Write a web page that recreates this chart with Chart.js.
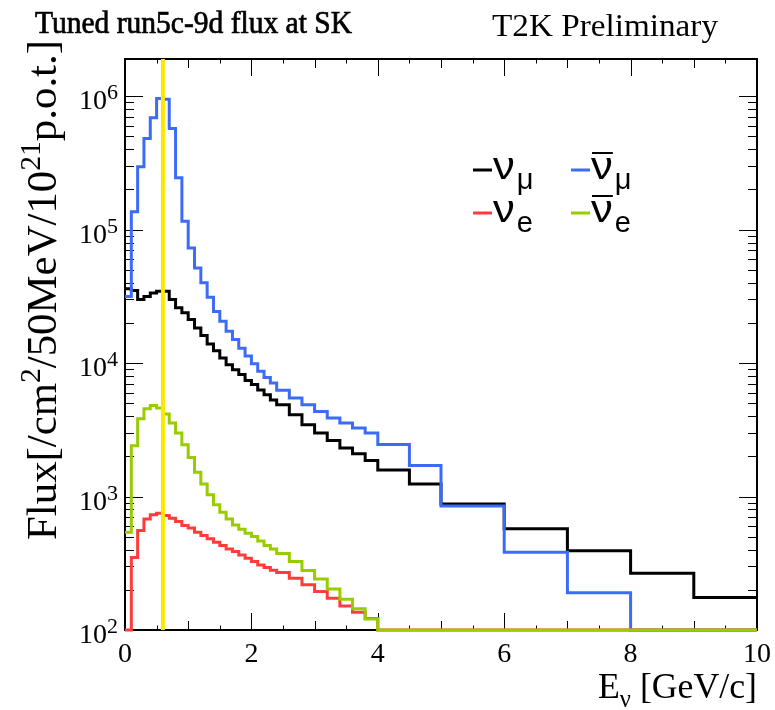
<!DOCTYPE html>
<html><head><meta charset="utf-8">
<script src="https://cdn.jsdelivr.net/npm/chart.js@4"></script>
<style>html,body{margin:0;padding:0;background:#fff}#wrap{width:775px;height:710px;position:relative}</style>
</head><body><div id="wrap"><canvas id="c"></canvas></div>
<script>
// ---- data (bin low edges, last entry = upper edge of last bin) ----
const binEdges = [0,0.1,0.2,0.3,0.4,0.5,0.6,0.7,0.8,0.9,1.0,1.1,1.2,1.3,1.4,1.5,1.6,1.7,1.8,1.9,2.0,2.1,2.2,2.3,2.4,2.6,2.8,3.0,3.2,3.4,3.6,3.8,4.0,4.5,5,6,7,8,9,10];
const numu    = [36000,35000,30000,31500,33500,34500,34500,30000,26000,23800,21200,18300,16100,13900,12400,10900,9700,8900,8200,7400,6900,6300,5800,5300,4870,4100,3450,2990,2630,2310,2090,1860,1580,1240,881,573,393,266,175];
const numubar = [31600,136000,296000,482000,690000,960000,947000,573000,245000,115600,73000,51700,40000,31100,24400,20600,17300,15000,12900,11300,9900,8670,7800,7100,6270,5470,4870,4340,3870,3550,3260,2990,2450,1710,851,383,190,0,0];
const nue     = [0,349,556,680,730,750,721,689,650,607,580,541,510,482,455,429,405,387,365,345,326,307,294,280,270,244,218,194,173,151,136,122,0,0,0,0,0,0,0];
const nuebar  = [541,2400,3830,4550,4820,4600,4150,3550,2990,2440,1960,1520,1240,1030,867,764,680,613,569,531,501,465,429,405,374,326,279,241,203,170,144,121,0,0,0,0,0,0,0];
const xTickLabels = [0,2,4,6,8,10];
const yDecades = [2,3,4,5,6];
const peakEnergy = 0.6;
const YMIN = 100, YMAX = 1.9e6;

const COL = {numu:'#000000', numubar:'#3c6cf5', nue:'#ff3b3b', nuebar:'#99cc00', peak:'#fbe800'};

function histPoints(vals){
  const pts = vals.map((v,i)=>({x:binEdges[i], y:Math.max(v,YMIN)}));
  pts.push({x:binEdges[binEdges.length-1], y:Math.max(vals[vals.length-1],YMIN)});
  return pts;
}
function histDS(vals,color){
  return {data:histPoints(vals), borderColor:color, borderWidth:3, stepped:'before', pointRadius:0, fill:false, clip:false, tension:0};
}

// ---- text helpers ----
function font(sz,fam,w){ return (w?w+' ':'')+sz+'px '+fam; }
function richWidth(ctx,parts){ let w=0; for(const p of parts){ ctx.font=font(p.s,p.f,p.w); w+=ctx.measureText(p.t).width; } return w; }
function drawRich(ctx,parts,x,y,align,fitW,stretch,strokeW){
  let sx=1;
  if(fitW){
    const w0=richWidth(ctx,parts);
    if(stretch){ sx=fitW/w0; }
    else { const k=fitW/w0; parts=parts.map(p=>Object.assign({},p,{s:p.s*k,dy:(p.dy||0)*k})); }
  }
  const w=richWidth(ctx,parts)*sx;
  let cx = align==='right'? x-w : align==='center'? x-w/2 : x;
  ctx.save(); ctx.translate(cx,y); ctx.scale(sx,1);
  ctx.textAlign='left'; ctx.textBaseline='alphabetic';
  let px=0;
  for(const p of parts){
    ctx.font=font(p.s,p.f,p.w); ctx.fillText(p.t,px,(p.dy||0));
    if(strokeW){ ctx.strokeStyle=ctx.fillStyle; ctx.lineWidth=strokeW; ctx.strokeText(p.t,px,(p.dy||0)); }
    px+=ctx.measureText(p.t).width;
  }
  ctx.restore();
  return w;
}
const SERIF='"Liberation Serif", "DejaVu Serif", serif';
const SANS='"Liberation Sans", Arial, sans-serif';

const framePlugin = {
  id:'frameTicks',
  beforeDatasetsDraw(chart){
    const {ctx, chartArea:a, scales:{x,y}} = chart;
    ctx.save();
    ctx.strokeStyle='#000'; ctx.lineWidth=1;
    const seg=(x1,y1,x2,y2)=>{ctx.beginPath();ctx.moveTo(x1,y1);ctx.lineTo(x2,y2);ctx.stroke();};
    for(let i=0;i<=20;i++){
      const v=i*0.5;
      const px=Math.round(x.getPixelForValue(v))+0.5;
      const L = (i%4===0)?17:((i%2===0)?9:4.5);
      seg(px,a.bottom,px,a.bottom-L); seg(px,a.top,px,a.top+L);
    }
    for(const n of yDecades){
      for(let k=1;k<=9;k++){
        const v=k*Math.pow(10,n); if(v>YMAX) break;
        const py=Math.round(y.getPixelForValue(v))+0.5;
        const L = k===1?18:9;
        seg(a.left,py,a.left+L,py); seg(a.right,py,a.right-L,py);
      }
    }
    ctx.lineWidth=2;
    ctx.strokeRect(a.left,a.top,a.right-a.left,a.bottom-a.top);
    ctx.restore();
  },
  afterDraw(chart){
    const {ctx, chartArea:a, scales:{y}} = chart;
    ctx.save(); ctx.fillStyle='#000';
    // titles
    drawRich(ctx,[{t:'Tuned run5c-9d flux at SK',s:31,f:SERIF}],35,33,'left',317,true,0.7);
    drawRich(ctx,[{t:'T2K Preliminary',s:31,f:SERIF}],492,36,'left',226,true);
    // y labels
    for(const n of yDecades){
      const py=y.getPixelForValue(Math.pow(10,n));
      drawRich(ctx,[{t:'10',s:28,f:SERIF,dy:13},{t:String(n),s:22,f:SERIF,dy:3}],118,py,'right');
    }
    // x title
    drawRich(ctx,[{t:'E',s:35,f:SERIF},{t:'\u03bd',s:24,f:SERIF,dy:9},{t:' [GeV/c]',s:35,f:SERIF}],757,698,'right',159);
    // y title
    ctx.save(); ctx.translate(56,540); ctx.rotate(-Math.PI/2);
    drawRich(ctx,[{t:'Flux[/cm',s:42,f:SERIF},{t:'2',s:29,f:SERIF,dy:-16},{t:'/50MeV/10',s:42,f:SERIF},{t:'21',s:29,f:SERIF,dy:-16},{t:'p.o.t.]',s:42,f:SERIF}],0,0,'left',500);
    ctx.restore();
    // legend
    const entries=[
      {c:COL.numu, bar:false, sub:'\u03bc', lx:473, ly:170},
      {c:COL.numubar, bar:true, sub:'\u03bc', lx:571, ly:170},
      {c:COL.nue, bar:false, sub:'e', lx:473, ly:213},
      {c:COL.nuebar, bar:true, sub:'e', lx:571, ly:213}
    ];
    for(const e of entries){
      ctx.strokeStyle=e.c; ctx.lineWidth=3;
      ctx.beginPath(); ctx.moveTo(e.lx,e.ly); ctx.lineTo(e.lx+19,e.ly); ctx.stroke();
      ctx.fillStyle='#000';
      const nx=e.lx+20;
      ctx.save(); ctx.translate(nx,e.ly+9); ctx.scale(1.15,1);
      ctx.font=font(38,SANS); const nw=ctx.measureText('\u03bd').width*1.15;
      ctx.fillText('\u03bd',0,0); ctx.restore();
      if(e.bar){ ctx.strokeStyle='#000'; ctx.lineWidth=2; ctx.beginPath(); ctx.moveTo(nx+1,e.ly-17); ctx.lineTo(nx+nw,e.ly-17); ctx.stroke(); }
      ctx.font=font(29,SANS); ctx.fillText(e.sub,nx+nw+2,e.ly+19);
    }
    ctx.restore();
  }
};

new Chart(document.getElementById('c'),{
  type:'line',
  data:{datasets:[
    {data:[{x:peakEnergy,y:YMIN},{x:peakEnergy,y:YMAX}], borderColor:COL.peak, borderWidth:4, pointRadius:0, clip:false},
    histDS(nuebar,COL.nuebar),
    histDS(nue,COL.nue),
    histDS(numubar,COL.numubar),
    histDS(numu,COL.numu)
  ]},
  options:{
    responsive:true, maintainAspectRatio:false, animation:false,
    layout:{padding:{top:59,right:18,left:0,bottom:0}},
    plugins:{legend:{display:false},tooltip:{enabled:false},title:{display:false}},
    scales:{
      x:{type:'linear',min:0,max:10,
        grid:{display:false,drawTicks:false}, border:{display:false},
        afterBuildTicks:s=>{s.ticks=xTickLabels.map(v=>({value:v}));},
        ticks:{font:{family:SERIF,size:28},color:'#000',padding:8,maxRotation:0,autoSkip:false},
        afterFit:s=>{s.height=80; s.paddingLeft=0; s.paddingRight=0;}
      },
      y:{type:'logarithmic',min:YMIN,max:YMAX,
        grid:{display:false,drawTicks:false}, border:{display:false},
        ticks:{display:false},
        afterFit:s=>{s.width=125; s.paddingTop=0; s.paddingBottom=0;}
      }
    }
  },
  plugins:[framePlugin]
});
</script></body></html>
